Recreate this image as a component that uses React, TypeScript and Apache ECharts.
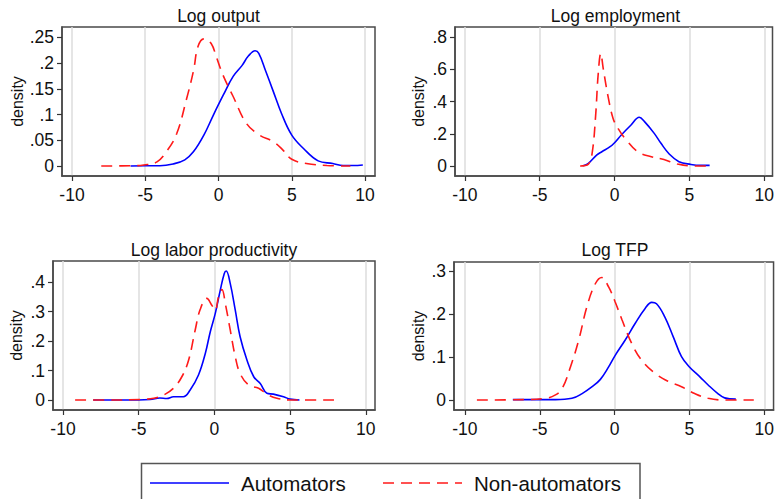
import React, { useEffect, useRef } from "react";
import * as echarts from "echarts";

const panelTitles = ["Log output", "Log employment", "Log labor productivity", "Log TFP"];
const seriesNames = ["Automators", "Non-automators"];
const xTicks = [-10, -5, 0, 5, 10];
const yTicksOutput = [0, 0.05, 0.1, 0.15, 0.2, 0.25];
const yTicksEmployment = [0, 0.2, 0.4, 0.6, 0.8];
const yTicksProductivity = [0, 0.1, 0.2, 0.3, 0.4];
const yTicksTfp = [0, 0.1, 0.2, 0.3];

const outputAuto = [
  [-6.0, 0], [-5, 0.0005], [-4, 0.0005], [-3.1, 0.004], [-2.3, 0.012], [-1.7, 0.028], [-1.0, 0.06],
  [-0.35, 0.099], [0.33, 0.138], [1.0, 0.174], [1.6, 0.195], [2.05, 0.214], [2.5, 0.224], [2.75, 0.219],
  [3.2, 0.186], [3.75, 0.144], [4.3, 0.102], [5.0, 0.06], [5.8, 0.034], [6.8, 0.01], [7.8, 0.005],
  [8.5, 0.001], [9.2, 0.001], [9.85, 0.002],
];
const outputNon = [
  [-8.0, 0], [-6, 0.0005], [-5.1, 0.002], [-4.2, 0.008], [-3.55, 0.028], [-2.85, 0.063], [-2.2, 0.128],
  [-1.7, 0.186], [-1.4, 0.232], [-1.0, 0.247], [-0.5, 0.238], [-0.15, 0.212], [0.3, 0.177], [1.0, 0.135],
  [1.9, 0.083], [2.8, 0.06], [3.75, 0.047], [4.4, 0.031], [5.0, 0.013], [6.0, 0.005], [7.4, 0.001], [9.0, 0],
];
const employmentAuto = [
  [-2.1, 0.002], [-1.75, 0.017], [-1.2, 0.068], [-0.85, 0.089], [-0.3, 0.12], [0, 0.145], [0.45, 0.193],
  [1.1, 0.255], [1.65, 0.303], [2.0, 0.276], [2.65, 0.203], [3.1, 0.141], [3.65, 0.075], [4.3, 0.027],
  [5.1, 0.01], [5.75, 0.004], [6.35, 0.004],
];
const employmentNon = [
  [-2.3, 0], [-1.75, 0.012], [-1.5, 0.079], [-1.27, 0.307], [-1.09, 0.576], [-0.92, 0.7], [-0.76, 0.607],
  [-0.43, 0.43], [-0.1, 0.296], [0.23, 0.234], [0.78, 0.162], [1.55, 0.089], [2.45, 0.058], [3.3, 0.041],
  [4.2, 0.012], [5.3, 0], [6.2, 0],
];
const productivityAuto = [
  [-8, 0], [-6, 0], [-4.25, 0.002], [-3.6, 0.007], [-3.15, 0.005], [-2.7, 0.011], [-2.05, 0.011],
  [-1.6, 0.034], [-1.05, 0.085], [-0.6, 0.158], [-0.27, 0.232], [0.06, 0.294], [0.39, 0.373], [0.65, 0.429],
  [0.78, 0.438], [1.05, 0.395], [1.38, 0.305], [1.7, 0.215], [2.15, 0.136], [2.6, 0.079], [3.03, 0.056],
  [3.47, 0.023], [3.9, 0.02], [4.57, 0.011], [5.0, 0.003], [5.62, 0],
];
const productivityNon = [
  [-9.2, 0], [-7, 0], [-4.9, 0.002], [-4.0, 0.006], [-3.35, 0.017], [-2.7, 0.04], [-2.15, 0.079],
  [-1.7, 0.136], [-1.27, 0.237], [-0.94, 0.307], [-0.5, 0.345], [-0.17, 0.322], [0.06, 0.305], [0.27, 0.35],
  [0.5, 0.375], [0.72, 0.328], [1.05, 0.237], [1.38, 0.147], [1.7, 0.09], [2.26, 0.051], [2.92, 0.04],
  [3.47, 0.02], [4.13, 0.006], [5.2, 0], [7.9, 0],
];
const tfpAuto = [
  [-6.8, 0.001], [-3.95, 0.001], [-2.85, 0.004], [-2.17, 0.015], [-1.5, 0.031], [-0.95, 0.048], [-0.4, 0.077],
  [0.04, 0.104], [0.7, 0.139], [1.37, 0.178], [2.04, 0.213], [2.48, 0.227], [2.8, 0.224], [3.36, 0.193],
  [3.92, 0.147], [4.47, 0.101], [5.0, 0.077], [5.7, 0.054], [6.25, 0.035], [6.9, 0.015], [7.35, 0.005],
  [8.1, 0.002],
];
const tfpNon = [
  [-9.2, 0], [-6.15, 0.001], [-4.6, 0.004], [-3.95, 0.012], [-3.5, 0.027], [-2.95, 0.077], [-2.4, 0.139],
  [-1.85, 0.217], [-1.28, 0.271], [-0.85, 0.285], [-0.4, 0.263], [0.04, 0.228], [0.5, 0.186], [1.15, 0.131],
  [1.8, 0.093], [2.7, 0.062], [3.6, 0.043], [4.47, 0.031], [5.35, 0.015], [6.25, 0.004], [7.35, 0], [9.3, 0],
];

const panelAuto = [outputAuto, employmentAuto, productivityAuto, tfpAuto];
const panelNon = [outputNon, employmentNon, productivityNon, tfpNon];
const panelYTicks = [yTicksOutput, yTicksEmployment, yTicksProductivity, yTicksTfp];
const panelYStep = [0.05, 0.2, 0.1, 0.1];

// layout (pixels / axis extents)
const layout = [
  { left: 62, top: 27, width: 313, height: 149, xMin: -10.68, xMax: 10.68, yMin: -0.0194, yMax: 0.27, nameGap: 37 },
  { left: 455, top: 27, width: 321, height: 149, xMin: -10.66, xMax: 10.55, yMin: -0.062, yMax: 0.864, nameGap: 29 },
  { left: 53, top: 261, width: 322, height: 149, xMin: -10.66, xMax: 10.61, yMin: -0.0339, yMax: 0.472, nameGap: 29 },
  { left: 454, top: 262, width: 322, height: 148, xMin: -10.73, xMax: 10.62, yMin: -0.0232, yMax: 0.321, nameGap: 28 },
];

const FONT = "'Liberation Sans', Arial, Helvetica, sans-serif";
const BLUE = "#0000ff";
const RED = "#ff1a1a";
const TEXT = "#111111";

function fmtY(v: number) {
  if (Math.abs(v) < 1e-9) return "0";
  return String(+v.toFixed(3)).replace(/^0\./, ".");
}

export default function App() {
  const ref = useRef<HTMLDivElement>(null);
  useEffect(() => {
    document.body.style.margin = "0";
    if (!ref.current) return;
    const chart = echarts.init(ref.current, null, { renderer: "svg" });

    const grid = layout.map((l) => ({
      left: l.left, top: l.top, width: l.width, height: l.height,
      show: true, borderColor: "#4a4a4a", borderWidth: 1.5, backgroundColor: "#ffffff",
      containLabel: false,
    }));
    const xAxis = layout.map((l, i) => ({
      type: "value", gridIndex: i, min: l.xMin, max: l.xMax, minInterval: 5, maxInterval: 5,
      axisLine: { show: true, onZero: false, lineStyle: { color: "#4a4a4a", width: 1.5 } },
      axisTick: { show: true, customValues: xTicks, length: 5, lineStyle: { color: "#333", width: 1.2 } },
      axisLabel: { customValues: xTicks, margin: 10, fontSize: 17.5, color: TEXT, fontFamily: FONT, showMinLabel: true, showMaxLabel: true },
      splitLine: { show: true, lineStyle: { color: "#dddddd", width: 1.5 } },
    }));
    const yAxis = layout.map((l, i) => ({
      type: "value", gridIndex: i, min: l.yMin, max: l.yMax,
      minInterval: panelYStep[i], maxInterval: panelYStep[i],
      name: "density", nameLocation: "middle", nameGap: l.nameGap, nameRotate: 90,
      nameTextStyle: { fontSize: 16, color: TEXT, fontFamily: FONT },
      axisLine: { show: true, onZero: false, lineStyle: { color: "#4a4a4a", width: 1.5 } },
      axisTick: { show: true, customValues: panelYTicks[i], length: 5, lineStyle: { color: "#333", width: 1.2 } },
      axisLabel: { customValues: panelYTicks[i], margin: 8, fontSize: 17.5, color: TEXT, fontFamily: FONT, formatter: fmtY },
      splitLine: { show: false },
    }));
    const series: any[] = [];
    for (let i = 0; i < 4; i++) {
      series.push({
        type: "line", name: seriesNames[0], xAxisIndex: i, yAxisIndex: i, data: panelAuto[i],
        showSymbol: false, symbol: "none", smooth: 0.4,
        lineStyle: { color: BLUE, width: 1.6 }, z: 2,
      });
      series.push({
        type: "line", name: seriesNames[1], xAxisIndex: i, yAxisIndex: i, data: panelNon[i],
        showSymbol: false, symbol: "none", smooth: 0.4,
        lineStyle: { color: RED, width: 1.6, type: [11, 7] }, z: 3,
      });
    }

    const titleY = [16, 16, 250, 250];
    const graphic: any[] = layout.map((l, i) => ({
      type: "text", x: l.left + l.width / 2, y: titleY[i],
      style: { text: panelTitles[i], fontSize: 17.5, fontFamily: FONT, fill: TEXT, textAlign: "center", textVerticalAlign: "middle" },
    }));
    graphic.push(
      { type: "rect", shape: { x: 141.5, y: 463.5, width: 498.5, height: 60 }, style: { fill: "#fff", stroke: "#555", lineWidth: 1.5 } },
      { type: "line", shape: { x1: 150, y1: 483, x2: 229, y2: 483 }, style: { stroke: BLUE, lineWidth: 1.6 } },
      { type: "text", x: 241, y: 483, style: { text: seriesNames[0], fontSize: 20.5, fontFamily: FONT, fill: TEXT, textVerticalAlign: "middle" } },
      { type: "line", shape: { x1: 383, y1: 483, x2: 462, y2: 483 }, style: { stroke: RED, lineWidth: 1.6, lineDash: [11, 7] } },
      { type: "text", x: 474, y: 483, style: { text: seriesNames[1], fontSize: 20.5, fontFamily: FONT, fill: TEXT, textVerticalAlign: "middle" } },
    );

    chart.setOption({
      animation: false,
      backgroundColor: "#ffffff",
      grid, xAxis, yAxis, series, graphic,
    });
    return () => chart.dispose();
  }, []);
  return <div ref={ref} style={{ width: 777, height: 499 }} />;
}
